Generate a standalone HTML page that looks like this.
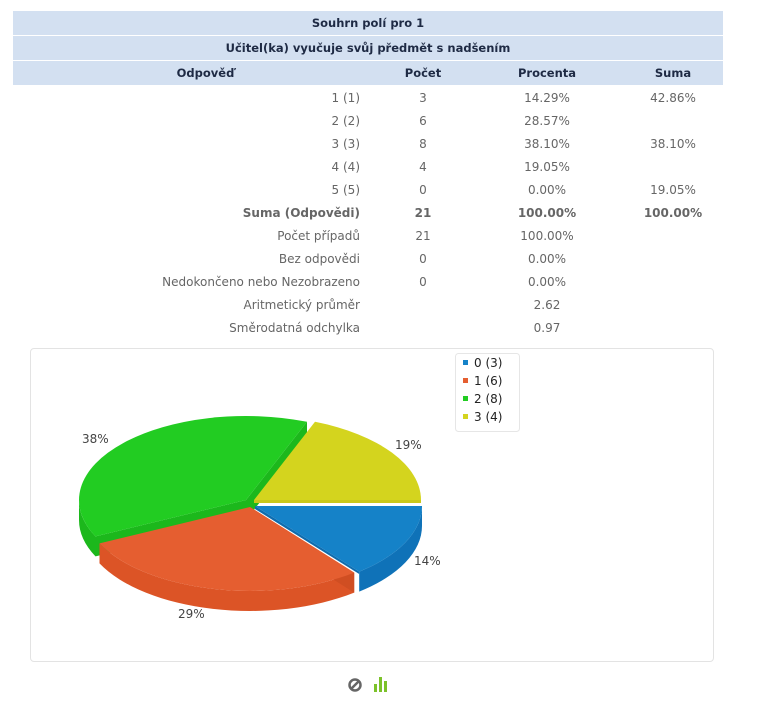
<!DOCTYPE html>
<html><head><meta charset="utf-8"><style>
body{margin:0;width:757px;height:710px;background:#fff;position:relative;font-family:"DejaVu Sans","Liberation Sans",sans-serif;overflow:hidden}
.h{position:absolute;left:13px;width:710px;height:24px;background:#d3e0f1;color:#1e2a44;font-size:11.5px;font-weight:bold;line-height:24px}
.t{position:absolute;font-size:12px;color:#666;line-height:14px;white-space:nowrap}
.r{text-align:right;width:300px;left:60px}
.c{text-align:center;width:120px}
.b{font-weight:bold}
</style></head><body>
<div class="h" style="top:11px;text-align:center">Souhrn polí pro 1</div>
<div class="h" style="top:36px;text-align:center">Učitel(ka) vyučuje svůj předmět s nadšením</div>
<div class="h" style="top:61px;">
<span style="position:absolute;left:0;width:385px;text-align:center">Odpověď</span>
<span style="position:absolute;left:350px;width:120px;text-align:center">Počet</span>
<span style="position:absolute;left:474px;width:120px;text-align:center">Procenta</span>
<span style="position:absolute;left:600px;width:120px;text-align:center">Suma</span>
</div>

<div class="t r" style="top:91px">1 (1)</div><div class="t c" style="top:91px;left:363px">3</div><div class="t c" style="top:91px;left:487px">14.29%</div><div class="t c" style="top:91px;left:613px">42.86%</div>
<div class="t r" style="top:114px">2 (2)</div><div class="t c" style="top:114px;left:363px">6</div><div class="t c" style="top:114px;left:487px">28.57%</div>
<div class="t r" style="top:137px">3 (3)</div><div class="t c" style="top:137px;left:363px">8</div><div class="t c" style="top:137px;left:487px">38.10%</div><div class="t c" style="top:137px;left:613px">38.10%</div>
<div class="t r" style="top:160px">4 (4)</div><div class="t c" style="top:160px;left:363px">4</div><div class="t c" style="top:160px;left:487px">19.05%</div>
<div class="t r" style="top:183px">5 (5)</div><div class="t c" style="top:183px;left:363px">0</div><div class="t c" style="top:183px;left:487px">0.00%</div><div class="t c" style="top:183px;left:613px">19.05%</div>
<div class="t r b" style="top:206px">Suma (Odpovědi)</div><div class="t c b" style="top:206px;left:363px">21</div><div class="t c b" style="top:206px;left:487px">100.00%</div><div class="t c b" style="top:206px;left:613px">100.00%</div>
<div class="t r" style="top:229px">Počet případů</div><div class="t c" style="top:229px;left:363px">21</div><div class="t c" style="top:229px;left:487px">100.00%</div>
<div class="t r" style="top:252px">Bez odpovědi</div><div class="t c" style="top:252px;left:363px">0</div><div class="t c" style="top:252px;left:487px">0.00%</div>
<div class="t r" style="top:275px">Nedokončeno nebo Nezobrazeno</div><div class="t c" style="top:275px;left:363px">0</div><div class="t c" style="top:275px;left:487px">0.00%</div>
<div class="t r" style="top:298px">Aritmetický průměr</div><div class="t c" style="top:298px;left:487px">2.62</div>
<div class="t r" style="top:321px">Směrodatná odchylka</div><div class="t c" style="top:321px;left:487px">0.97</div>

<div style="position:absolute;left:30px;top:348px;width:682px;height:312px;border:1px solid #e3e3e3;border-radius:4px"></div>

<svg style="position:absolute;left:0;top:0" width="757" height="710">
<path d="M95.5,536.4 A167,84 0 0 1 79,500 L79,520 A167,84 0 0 0 95.5,556.4 Z" fill="#1cb81c"/>
<path d="M246,500 L95.5,536.4 L95.5,556.4 L246,520 Z" fill="#1cb81c"/>
<path d="M246,500 L307,421.8 L307,441.8 L246,520 Z" fill="#1cb81c"/>
<path d="M246,500 L95.5,536.4 A167,84 0 0 1 307,421.8 Z" fill="#22cc22"/>
<path d="M254,500 L421,500 L421,503 L254,503 Z" fill="#c8c81a"/>
<path d="M254,500 L315,421.8 A167,84 0 0 1 421,500 Z" fill="#d4d41e"/>
<path d="M354.2,572.6 A167,84 0 0 1 99.5,543.4 L99.5,563.4 A167,84 0 0 0 354.2,592.6 Z" fill="#dc5426"/>
<path d="M250,507 L354.2,572.6 L354.2,592.6 L250,527 Z" fill="#d04e22"/>
<path d="M250,507 L354.2,572.6 A167,84 0 0 1 99.5,543.4 Z" fill="#e55e30"/>
<path d="M422,506 A167,84 0 0 1 359.2,571.6 L359.2,591.6 A167,84 0 0 0 422,526 Z" fill="#0f72b8"/>
<path d="M255,506 L359.2,571.6 L359.2,574 L255,509 Z" fill="#0f6cae"/>
<path d="M255,506 L422,506 A167,84 0 0 1 359.2,571.6 Z" fill="#1582c8"/>
<g font-family="DejaVu Sans,sans-serif" font-size="12" fill="#444">
<text x="82" y="443">38%</text>
<text x="395" y="449">19%</text>
<text x="414" y="565">14%</text>
<text x="178" y="618">29%</text>
</g>
<rect x="455.5" y="353.5" width="64" height="78" rx="3" fill="#fff" stroke="#e6e6e6"/>
<rect x="463" y="360" width="5" height="5" fill="#1582c8"/>
<rect x="463" y="378" width="5" height="5" fill="#e55e30"/>
<rect x="463" y="396" width="5" height="5" fill="#22cc22"/>
<rect x="463" y="414" width="5" height="5" fill="#d4d41e"/>
<g font-family="DejaVu Sans,sans-serif" font-size="12" fill="#222">
<text x="474" y="367">0 (3)</text>
<text x="474" y="385">1 (6)</text>
<text x="474" y="403">2 (8)</text>
<text x="474" y="421">3 (4)</text>
</g>
<circle cx="355" cy="685" r="5.5" fill="none" stroke="#666" stroke-width="2.5"/>
<line x1="351.5" y1="688.5" x2="358.5" y2="681.5" stroke="#666" stroke-width="2.5"/>
<rect x="374" y="684" width="3" height="8" fill="#7cc22a"/>
<rect x="379" y="677" width="3" height="15" fill="#7cc22a"/>
<rect x="384" y="681" width="3" height="11" fill="#7cc22a"/>
</svg>
</body></html>
